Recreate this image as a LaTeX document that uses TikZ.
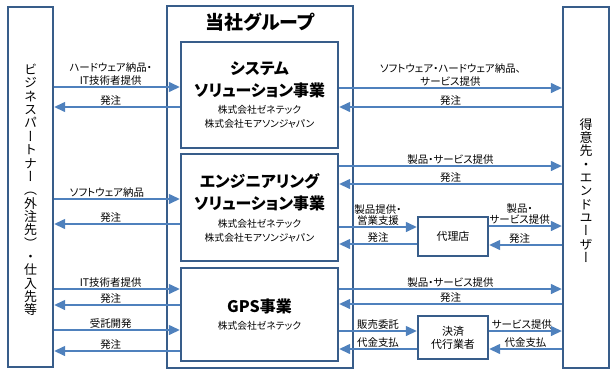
\documentclass[tikz,border=0pt]{standalone}
\usepackage{fontspec}
\setmainfont{Noto Sans CJK JP}[RawFeature=+palt]
\newfontfamily\tatefont{Noto Sans CJK JP}[RawFeature=+vert]
\usetikzlibrary{arrows.meta,positioning}
\definecolor{framecol}{RGB}{56,93,138}
\definecolor{flowcol}{RGB}{79,129,189}
\tikzset{
  frame/.style={draw=framecol,line width=2.4bp,inner sep=0},
  flow/.style={draw=flowcol,line width=1.4bp,-{Triangle[length=11bp,width=10bp]}},
  lbl/.style={font=\fontsize{10.5}{13}\selectfont,above,inner sep=1.2bp,align=center},
  head/.style={font=\fontsize{16}{22}\selectfont\bfseries,align=center,inner sep=0},
  firm/.style={font=\fontsize{9.8}{14}\selectfont,align=center,inner sep=0},
  tate/.style={font=\tatefont\fontsize{13}{13.4}\selectfont,align=center,inner sep=0}
}
\begin{document}
\begin{tikzpicture}[x=1bp,y=-1bp]
  \useasboundingbox (0,0) rectangle (616,375);
  % boxes
  \node[frame,minimum width=45bp,minimum height=360bp] (bp) at (30.5,187) {};
  \node[frame,minimum width=186bp,minimum height=362bp] (grp) at (260,187) {};
  \node[frame,minimum width=157bp,minimum height=106bp] (sys) at (259.5,95) {};
  \node[frame,minimum width=157bp,minimum height=107bp] (eng) at (259.5,207.5) {};
  \node[frame,minimum width=157bp,minimum height=93bp] (gps) at (259.5,314.5) {};
  \node[frame,minimum width=46bp,minimum height=361bp] (cust) at (586,187.5) {};
  \node[frame,minimum width=70bp,minimum height=39bp,font=\fontsize{11}{13}\selectfont] (agt) at (453,236.5) {代理店};
  \node[frame,minimum width=70bp,minimum height=43bp,font=\fontsize{11}{13}\selectfont,align=center] (pay) at (453,337.5) {決済\\代行業者};
  % texts
  \node[tate] (bptxt) at ([yshift=-3bp]bp.center)
    {ビ\\ジ\\ネ\\ス\\パ\\ー\\ト\\ナ\\ー\\（\\外\\注\\先\\）\\・\\仕\\入\\先\\等};
  \node[tate] (custtxt) at ([yshift=-3bp]cust.center)
    {得\\意\\先\\・\\エ\\ン\\ド\\ユ\\ー\\ザ\\ー};
  \node[font=\fontsize{19}{22}\selectfont\bfseries] (grpttl) at ([yshift=-17bp]grp.north) {当社グループ};
  \node[head] (systtl) at ([yshift=15bp]sys.center) {システム\\ソリューション事業};
  \node[firm] (sysfirm) at ([yshift=-22bp]sys.center) {株式会社ゼネテック\\株式会社モアソンジャパン};
  \node[head] (engttl) at ([yshift=15bp]eng.center) {エンジニアリング\\ソリューション事業};
  \node[firm] (engfirm) at ([yshift=-23.5bp]eng.center) {株式会社ゼネテック\\株式会社モアソンジャパン};
  \node[head] (gpsttl) at ([yshift=8.5bp]gps.center) {GPS事業};
  \node[firm] (gpsfirm) at ([yshift=-11.5bp]gps.center) {株式会社ゼネテック};
  % partner side
  \draw[flow] (bp.east |- 0,87) -- (sys.west |- 0,87) node[lbl,pos=.45] {ハードウェア納品・\\IT技術者提供};
  \draw[flow] (sys.west |- 0,107) -- (bp.east |- 0,107) node[lbl,pos=.55] {発注};
  \draw[flow] (bp.east |- 0,199) -- (eng.west |- 0,199) node[lbl,pos=.42] {ソフトウェア納品};
  \draw[flow] (eng.west |- 0,224) -- (bp.east |- 0,224) node[lbl,pos=.55] {発注};
  \draw[flow] (bp.east |- 0,289) -- (gps.west |- 0,289) node[lbl,pos=.45] {IT技術者提供};
  \draw[flow] (gps.west |- 0,305) -- (bp.east |- 0,305) node[lbl,pos=.55] {発注};
  \draw[flow] (bp.east |- 0,330) -- (gps.west |- 0,330) node[lbl,pos=.45] {受託開発};
  \draw[flow] (gps.west |- 0,351) -- (bp.east |- 0,351) node[lbl,pos=.55] {発注};
  % customer side
  \draw[flow] (sys.east |- 0,88) -- (cust.west |- 0,88) node[lbl,midway] {ソフトウェア・ハードウェア納品、\\サービス提供};
  \draw[flow] (cust.west |- 0,107) -- (sys.east |- 0,107) node[lbl,midway] {発注};
  \draw[flow] (eng.east |- 0,166) -- (cust.west |- 0,166) node[lbl,midway] {製品・サービス提供};
  \draw[flow] (cust.west |- 0,184) -- (eng.east |- 0,184) node[lbl,midway] {発注};
  \draw[flow] (eng.east |- 0,227) -- (agt.west |- 0,227) node[lbl,midway] {製品提供・\\[-2bp]営業支援};
  \draw[flow] (agt.west |- 0,244) -- (eng.east |- 0,244) node[lbl,midway] {発注};
  \draw[flow] (agt.east |- 0,226) -- (cust.west |- 0,226) node[lbl,pos=.42] {製品・\\[-2bp]サービス提供};
  \draw[flow] (cust.west |- 0,245) -- (agt.east |- 0,245) node[lbl,pos=.58] {発注};
  \draw[flow] (gps.east |- 0,289) -- (cust.west |- 0,289) node[lbl,midway] {製品・サービス提供};
  \draw[flow] (cust.west |- 0,304) -- (gps.east |- 0,304) node[lbl,midway] {発注};
  \draw[flow] (gps.east |- 0,331) -- (pay.west |- 0,331) node[lbl,midway] {販売委託};
  \draw[flow] (pay.west |- 0,349) -- (gps.east |- 0,349) node[lbl,midway] {代金支払};
  \draw[flow] (pay.east |- 0,331) -- (cust.west |- 0,331) node[lbl,pos=.45] {サービス提供};
  \draw[flow] (cust.west |- 0,349) -- (pay.east |- 0,349) node[lbl,midway] {代金支払};
\end{tikzpicture}
\end{document}
